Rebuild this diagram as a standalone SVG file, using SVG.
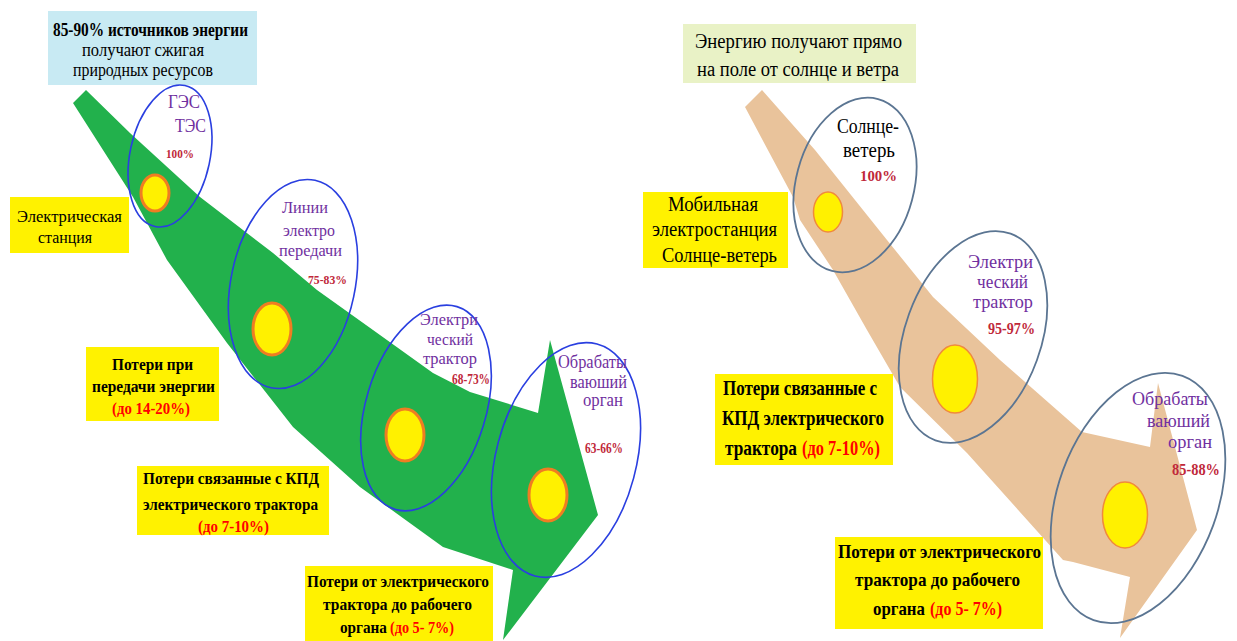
<svg xmlns="http://www.w3.org/2000/svg" width="1237" height="641" viewBox="0 0 1237 641" font-family="'Liberation Serif', 'DejaVu Serif', serif">
<style>
text{font-family:'Liberation Serif','DejaVu Serif',serif;}
.b{font-weight:bold;}
.blk{fill:#000;}
.pur{fill:#7030a0;}
.red{fill:#ff0000;}
.pct{fill:#c0283a;font-weight:bold;}
.ybox{fill:#fff200;}
.ellL{fill:none;stroke:#2a3fe0;stroke-width:1.6;}
.ellR{fill:none;stroke:#5b7592;stroke-width:1.8;}
.sunL{fill:#fff100;stroke:#ef7d22;stroke-width:3;}
.sunR{fill:#fff100;stroke:#f08a3c;stroke-width:1.5;}
</style>
<rect width="1237" height="641" fill="#ffffff"/>

<g id="connectors">
  <path id="flow-left" d="M73,103 L86,90 L130,133 L200,197 L273,253 L317,290 L373,330 L433,373 L470,392 L538,413 L550,340 L598,515 L503,640 L513,570 L443,547 L360,487 L293,427 L227,343 L167,260 L133,197 Z" fill="#22b14c"/>
  <path id="flow-right" d="M745,107 L762,90 L815,150 L887,240 L933,297 L1000,360 L1082,432 L1150,447 L1158,383 L1197,530 L1120,638 L1130,577 L1073,562 L1063,560 L967,453 L900,387 L867,330 L833,270 L800,220 L793,197 Z" fill="#e9c39b"/>
</g>

<!-- LEFT PANEL -->
<g id="src-left">
  <rect x="48" y="11" width="209" height="74" fill="#c8eaf3"/>
  <text class="blk b" x="53" y="36" font-size="18" textLength="195" lengthAdjust="spacingAndGlyphs">85-90% источников энергии</text>
  <text class="blk" x="82" y="56" font-size="18" textLength="122" lengthAdjust="spacingAndGlyphs">получают сжигая</text>
  <text class="blk" x="73" y="76" font-size="18" textLength="140" lengthAdjust="spacingAndGlyphs">природных ресурсов</text>
</g>

<g id="node-ges">
  <ellipse class="ellL" cx="170" cy="156" rx="40" ry="72" transform="rotate(12 170 156)"/>
  <ellipse class="sunL" cx="155" cy="193" rx="14" ry="18"/>
  <text class="pur" x="168" y="108" font-size="18" textLength="32" lengthAdjust="spacingAndGlyphs">ГЭС</text>
  <text class="pur" x="175" y="132" font-size="18" textLength="31" lengthAdjust="spacingAndGlyphs">ТЭС</text>
  <text class="pct" x="166" y="158" font-size="13" textLength="28" lengthAdjust="spacingAndGlyphs">100%</text>
</g>

<g id="node-lines">
  <ellipse class="ellL" cx="293" cy="284" rx="62" ry="106" transform="rotate(12 293 284)"/>
  <ellipse class="sunL" cx="272" cy="329" rx="19" ry="26"/>
  <text class="pur" x="282" y="213" font-size="17" textLength="46" lengthAdjust="spacingAndGlyphs">Линии</text>
  <text class="pur" x="283" y="236" font-size="17" textLength="52" lengthAdjust="spacingAndGlyphs">электро</text>
  <text class="pur" x="279" y="256" font-size="17" textLength="63" lengthAdjust="spacingAndGlyphs">передачи</text>
  <text class="pct" x="308" y="284" font-size="13" textLength="39" lengthAdjust="spacingAndGlyphs">75-83%</text>
</g>

<g id="node-tractor-left">
  <ellipse class="ellL" cx="426" cy="408" rx="60" ry="106" transform="rotate(17 426 408)"/>
  <ellipse class="sunL" cx="405" cy="435" rx="19" ry="26"/>
  <text class="pur" x="420" y="325" font-size="17" textLength="58" lengthAdjust="spacingAndGlyphs">Электри</text>
  <text class="pur" x="427" y="345" font-size="17" textLength="46" lengthAdjust="spacingAndGlyphs">ческий</text>
  <text class="pur" x="423" y="364" font-size="17" textLength="54" lengthAdjust="spacingAndGlyphs">трактор</text>
  <text class="pct" x="452" y="384" font-size="14" textLength="38" lengthAdjust="spacingAndGlyphs">68-73%</text>
</g>

<g id="node-organ-left">
  <ellipse class="ellL" cx="566" cy="460" rx="70" ry="120" transform="rotate(15 566 460)"/>
  <ellipse class="sunL" cx="548" cy="495" rx="19" ry="26"/>
  <text class="pur" x="558" y="368" font-size="18" textLength="69" lengthAdjust="spacingAndGlyphs">Обрабаты</text>
  <text class="pur" x="570" y="388" font-size="18" textLength="57" lengthAdjust="spacingAndGlyphs">ваюший</text>
  <text class="pur" x="583" y="406" font-size="18" textLength="40" lengthAdjust="spacingAndGlyphs">орган</text>
  <text class="pct" x="585" y="453" font-size="14" textLength="38" lengthAdjust="spacingAndGlyphs">63-66%</text>
</g>

<g id="label-station">
  <rect class="ybox" x="10" y="197" width="119" height="56"/>
  <text class="blk" x="17" y="222" font-size="17" textLength="105" lengthAdjust="spacingAndGlyphs">Электрическая</text>
  <text class="blk" x="38" y="243" font-size="17" textLength="54" lengthAdjust="spacingAndGlyphs">станция</text>
</g>

<g id="loss-transmission">
  <rect class="ybox" x="86" y="347" width="133" height="74"/>
  <text class="blk b" x="112" y="370" font-size="17" textLength="81" lengthAdjust="spacingAndGlyphs">Потери при</text>
  <text class="blk b" x="92" y="392" font-size="17" textLength="123" lengthAdjust="spacingAndGlyphs">передачи энергии</text>
  <text class="red b" x="112" y="414" font-size="17" textLength="78" lengthAdjust="spacingAndGlyphs">(до 14-20%)</text>
</g>

<g id="loss-tractor-left">
  <rect class="ybox" x="137" y="466" width="192" height="69"/>
  <text class="blk b" x="143" y="484" font-size="17" textLength="176" lengthAdjust="spacingAndGlyphs">Потери связанные с КПД</text>
  <text class="blk b" x="143" y="510" font-size="17" textLength="175" lengthAdjust="spacingAndGlyphs">электрического трактора</text>
  <text class="red b" x="198" y="532" font-size="17" textLength="71" lengthAdjust="spacingAndGlyphs">(до 7-10%)</text>
</g>

<g id="loss-organ-left">
  <rect class="ybox" x="305" y="566" width="188" height="75"/>
  <text class="blk b" x="307" y="587" font-size="17" textLength="182" lengthAdjust="spacingAndGlyphs">Потери от электрического</text>
  <text class="blk b" x="323" y="610" font-size="17" textLength="149" lengthAdjust="spacingAndGlyphs">трактора до рабочего</text>
  <text class="blk b" x="340" y="633" font-size="17" textLength="47" lengthAdjust="spacingAndGlyphs">органа</text>
  <text class="red b" x="390" y="633" font-size="17" textLength="64" lengthAdjust="spacingAndGlyphs">(до 5- 7%)</text>
</g>

<!-- RIGHT PANEL -->
<g id="src-right">
  <rect x="683" y="24" width="233" height="59" fill="#e9f2c6"/>
  <text class="blk" x="695" y="48" font-size="20" textLength="207" lengthAdjust="spacingAndGlyphs">Энергию получают прямо</text>
  <text class="blk" x="697" y="76" font-size="20" textLength="202" lengthAdjust="spacingAndGlyphs">на поле от солнце и ветра</text>
</g>

<g id="node-sunwind">
  <ellipse class="ellR" cx="855" cy="185" rx="59" ry="89" transform="rotate(15 855 185)"/>
  <ellipse class="sunR" cx="828" cy="212" rx="14.5" ry="20"/>
  <text class="blk" x="837" y="133" font-size="20" textLength="62" lengthAdjust="spacingAndGlyphs">Солнце-</text>
  <text class="blk" x="843" y="157" font-size="20" textLength="52" lengthAdjust="spacingAndGlyphs">ветерь</text>
  <text class="pct" x="860" y="181" font-size="15" textLength="37" lengthAdjust="spacingAndGlyphs">100%</text>
</g>

<g id="node-tractor-right">
  <ellipse class="ellR" cx="973" cy="337" rx="68" ry="110" transform="rotate(20 973 337)"/>
  <ellipse class="sunR" cx="955" cy="379" rx="22.5" ry="34"/>
  <text class="pur" x="968" y="268" font-size="19" textLength="65" lengthAdjust="spacingAndGlyphs">Электри</text>
  <text class="pur" x="977" y="288" font-size="19" textLength="51" lengthAdjust="spacingAndGlyphs">ческий</text>
  <text class="pur" x="973" y="308" font-size="19" textLength="60" lengthAdjust="spacingAndGlyphs">трактор</text>
  <text class="pct" x="988" y="334" font-size="16" textLength="47" lengthAdjust="spacingAndGlyphs">95-97%</text>
</g>

<g id="node-organ-right">
  <ellipse class="ellR" cx="1138" cy="498" rx="80" ry="130" transform="rotate(20 1138 498)"/>
  <ellipse class="sunR" cx="1125" cy="515" rx="22.5" ry="33"/>
  <text class="pur" x="1132" y="405" font-size="19" textLength="76" lengthAdjust="spacingAndGlyphs">Обрабаты</text>
  <text class="pur" x="1147" y="427" font-size="19" textLength="63" lengthAdjust="spacingAndGlyphs">ваюший</text>
  <text class="pur" x="1168" y="448" font-size="19" textLength="44" lengthAdjust="spacingAndGlyphs">орган</text>
  <text class="pct" x="1172" y="475" font-size="17" textLength="48" lengthAdjust="spacingAndGlyphs">85-88%</text>
</g>

<g id="label-mobile">
  <rect class="ybox" x="643" y="192" width="145" height="76"/>
  <text class="blk" x="668" y="211" font-size="20" textLength="90" lengthAdjust="spacingAndGlyphs">Мобильная</text>
  <text class="blk" x="652" y="236" font-size="20" textLength="125" lengthAdjust="spacingAndGlyphs">электростанция</text>
  <text class="blk" x="662" y="262" font-size="20" textLength="115" lengthAdjust="spacingAndGlyphs">Солнце-ветерь</text>
</g>

<g id="loss-tractor-right">
  <rect class="ybox" x="715" y="374" width="178" height="91"/>
  <text class="blk b" x="723" y="395" font-size="20" textLength="154" lengthAdjust="spacingAndGlyphs">Потери связанные с</text>
  <text class="blk b" x="722" y="425" font-size="20" textLength="162" lengthAdjust="spacingAndGlyphs">КПД электрического</text>
  <text class="blk b" x="725" y="455" font-size="20" textLength="72" lengthAdjust="spacingAndGlyphs">трактора</text>
  <text class="red b" x="802" y="455" font-size="20" textLength="78" lengthAdjust="spacingAndGlyphs">(до 7-10%)</text>
</g>

<g id="loss-organ-right">
  <rect class="ybox" x="835" y="537" width="208" height="92"/>
  <text class="blk b" x="838" y="558" font-size="19" textLength="203" lengthAdjust="spacingAndGlyphs">Потери от электрического</text>
  <text class="blk b" x="855" y="586" font-size="19" textLength="165" lengthAdjust="spacingAndGlyphs">трактора до рабочего</text>
  <text class="blk b" x="873" y="615" font-size="19" textLength="52" lengthAdjust="spacingAndGlyphs">органа</text>
  <text class="red b" x="930" y="615" font-size="19" textLength="72" lengthAdjust="spacingAndGlyphs">(до 5- 7%)</text>
</g>
</svg>
